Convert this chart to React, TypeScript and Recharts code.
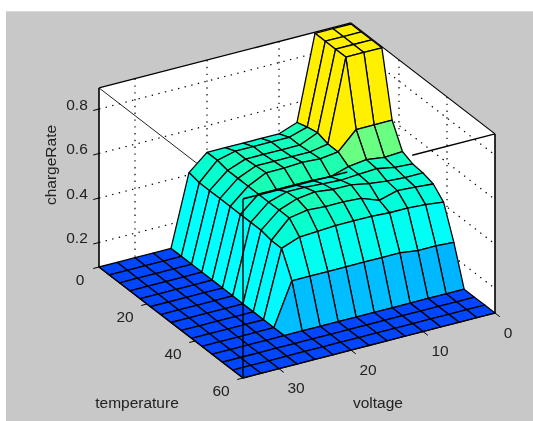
import { ScatterChart, Scatter, XAxis, YAxis, Polygon } from 'recharts';

const W = 533;
const H = 421;

// grid of the surface
const temperatureGrid = [0, 4.29, 8.57, 12.86, 17.14, 21.43, 25.71, 30, 34.29, 38.57, 42.86, 47.14, 51.43, 55.71, 60];
const voltageGrid = [35, 32.5, 30, 27.5, 25, 22.5, 20, 17.5, 15, 12.5, 10, 7.5, 5, 2.5, 0];

// chargeRate, one row per temperature, columns follow voltageGrid
const rowT00 = [0.09, 0.09, 0.09, 0.09, 0.09, 0.41, 0.48, 0.48, 0.48, 0.48, 0.48, 0.51, 0.89, 0.89, 0.89];
const rowT01 = [0.09, 0.09, 0.09, 0.09, 0.09, 0.40, 0.48, 0.50, 0.50, 0.50, 0.50, 0.525, 0.89, 0.89, 0.89];
const rowT02 = [0.09, 0.09, 0.09, 0.09, 0.09, 0.40, 0.47, 0.50, 0.50, 0.50, 0.50, 0.535, 0.89, 0.89, 0.89];
const rowT03 = [0.09, 0.09, 0.09, 0.09, 0.09, 0.40, 0.47, 0.505, 0.505, 0.505, 0.505, 0.52, 0.89, 0.89, 0.89];
const rowT04 = [0.09, 0.09, 0.09, 0.09, 0.09, 0.40, 0.47, 0.51, 0.51, 0.515, 0.51, 0.52, 0.60, 0.60, 0.60];
const rowT05 = [0.09, 0.09, 0.09, 0.09, 0.09, 0.40, 0.47, 0.47, 0.47, 0.47, 0.465, 0.49, 0.50, 0.49, 0.495];
const rowT06 = [0.09, 0.09, 0.09, 0.09, 0.09, 0.40, 0.47, 0.495, 0.495, 0.49, 0.485, 0.49, 0.495, 0.48, 0.475];
const rowT07 = [0.09, 0.09, 0.09, 0.09, 0.09, 0.40, 0.47, 0.50, 0.51, 0.50, 0.50, 0.485, 0.475, 0.47, 0.47];
const rowT08 = [0.09, 0.09, 0.09, 0.09, 0.09, 0.39, 0.47, 0.485, 0.48, 0.48, 0.475, 0.445, 0.468, 0.463, 0.456];
const rowT09 = [0.09, 0.09, 0.09, 0.09, 0.09, 0.39, 0.42, 0.425, 0.43, 0.43, 0.43, 0.425, 0.425, 0.42, 0.41];
const rowT10 = [0.09, 0.09, 0.09, 0.09, 0.09, 0.28, 0.28, 0.28, 0.28, 0.28, 0.28, 0.28, 0.27, 0.27, 0.265];
const rowT11 = [0.09, 0.09, 0.09, 0.09, 0.09, 0.09, 0.09, 0.09, 0.09, 0.09, 0.09, 0.09, 0.09, 0.09, 0.09];
const rowT12 = rowT11;
const rowT13 = rowT11;
const rowT14 = rowT11;
const chargeRate = [rowT00, rowT01, rowT02, rowT03, rowT04, rowT05, rowT06, rowT07, rowT08, rowT09, rowT10, rowT11, rowT12, rowT13, rowT14];

const zTicks = [0.2, 0.4, 0.6, 0.8];
const temperatureTicks = [0, 20, 40, 60];
const voltageTicks = [0, 10, 20, 30];

const zMin = 0.09;
const zMax = 0.895;

// colormap
const colorLevels = [0.09, 0.28, 0.4, 0.47, 0.52, 0.6, 0.62, 0.89];
const colorRgb = [
  [0, 70, 255],
  [0, 190, 255],
  [0, 255, 255],
  [0, 255, 215],
  [30, 255, 175],
  [105, 255, 130],
  [255, 240, 0],
  [255, 240, 0],
];

function colorFor(z: number) {
  let k = 0;
  while (k < colorLevels.length - 2 && z > colorLevels[k + 1]) k++;
  const f = Math.min(1, Math.max(0, (z - colorLevels[k]) / (colorLevels[k + 1] - colorLevels[k])));
  const c = colorRgb[k].map((v, n) => Math.round(v + (colorRgb[k + 1][n] - v) * f));
  return `rgb(${c[0]},${c[1]},${c[2]})`;
}

// matlab style view of the box
function project(t: number, v: number, z: number) {
  return {
    x: 99 + (t / 60) * 144 + ((35 - v) / 35) * 252,
    y: 267 + (t / 60) * 111 - ((35 - v) / 35) * 65 - (z - zMin) * 222.5,
  };
}

const noPoint = () => <g />;

function Face({ pts, fill, stroke = '#000', width = 1.3 }: any) {
  return (
    <Scatter
      data={pts}
      dataKey="y"
      isAnimationActive={false}
      shape={noPoint}
      line={(p: any) => <Polygon points={p.points} fill={fill} stroke={stroke} strokeWidth={width} strokeLinejoin="round" />}
    />
  );
}

function Stroke({ from, to, width = 1.3, color = '#000', dash }: any) {
  return (
    <Scatter
      data={[from, to]}
      dataKey="y"
      isAnimationActive={false}
      shape={noPoint}
      line={{ stroke: color, strokeWidth: width, strokeDasharray: dash }}
    />
  );
}

const textColor = '#222';
const labelShape = (p: any) => {
  const d = p.payload;
  return (
    <text
      x={p.cx}
      y={p.cy}
      fontFamily="Liberation Sans, Arial, sans-serif"
      fontSize={15.5}
      fill={textColor}
      textAnchor="middle"
      dominantBaseline="central"
      transform={d.rotate ? `rotate(-90 ${p.cx} ${p.cy})` : undefined}
    >
      {d.label}
    </text>
  );
};

export default function App() {
  const P = project;
  const dotted = '1.4 5.4';

  const faces: any[] = [];
  // far corner first so the nearer cells paint over
  for (let i = 0; i < 14; i++) {
    for (let j = 13; j >= 0; j--) {
      const t0 = temperatureGrid[i];
      const t1 = temperatureGrid[i + 1];
      const v0 = voltageGrid[j];
      const v1 = voltageGrid[j + 1];
      faces.push(
        <Face
          key={`f${i}-${j}`}
          fill={colorFor(chargeRate[i][j + 1])}
          pts={[
            P(t0, v0, chargeRate[i][j]),
            P(t0, v1, chargeRate[i][j + 1]),
            P(t1, v1, chargeRate[i + 1][j + 1]),
            P(t1, v0, chargeRate[i + 1][j]),
          ]}
        />
      );
    }
  }

  const labels = [
    ...zTicks.map((z) => {
      const p = P(0, 35, z);
      return { x: p.x - 22, y: p.y - 5, label: z.toFixed(1) };
    }),
    ...temperatureTicks.map((t) => {
      const p = P(t, 35, zMin);
      return { x: p.x - (t === 0 ? 19 : 22), y: p.y + 12, label: String(t) };
    }),
    ...voltageTicks.map((v) => {
      const p = P(60, v, zMin);
      return { x: p.x + (v === 0 ? 13 : 17), y: p.y + 19, label: String(v) };
    }),
    { x: 137, y: 402, label: 'temperature' },
    { x: 378, y: 402, label: 'voltage' },
    { x: 50, y: 165, label: 'chargeRate', rotate: true },
  ];

  return (
    <div style={{ position: 'absolute', left: 0, top: 0, width: W, height: H, background: '#fff', overflow: 'hidden' }}>
      <div style={{ position: 'absolute', left: 6, top: 11, right: 0, bottom: 0, background: '#c8c8c8', borderTop: '1px solid #d8d8d8' }} />
      <div style={{ position: 'absolute', left: 0, top: 0, filter: 'blur(0.45px)' }}>
        <ScatterChart width={W} height={H} margin={{ top: 0, right: 0, bottom: 0, left: 0 }}>
          <XAxis type="number" dataKey="x" domain={[0, W]} hide allowDataOverflow />
          <YAxis type="number" dataKey="y" domain={[0, H]} reversed hide allowDataOverflow />

          {/* back panes */}
          <Face
            fill="#fff"
            stroke="none"
            pts={[P(0, 35, zMin), P(0, 35, zMax), P(0, 0, zMax), P(60, 0, zMax), P(60, 0, zMin), P(60, 35, zMin)]}
          />
          {zTicks.map((z) => (
            <Stroke key={`ga${z}`} from={P(0, 35, z)} to={P(0, 0, z)} dash={dotted} width={1.2} />
          ))}
          {zTicks.map((z) => (
            <Stroke key={`gb${z}`} from={P(0, 0, z)} to={P(60, 0, z)} dash={dotted} width={1.2} />
          ))}
          {voltageTicks.slice(1).map((v) => (
            <Stroke key={`gv${v}`} from={P(0, v, zMax)} to={P(0, v, zMin)} dash={dotted} width={1.2} />
          ))}
          {temperatureTicks.slice(1, 3).map((t) => (
            <Stroke key={`gt${t}`} from={P(t, 0, zMax)} to={P(t, 0, zMin)} dash={dotted} width={1.2} />
          ))}
          <Stroke from={P(0, 35, zMax)} to={P(0, 0, zMax)} width={1.4} />
          <Stroke from={P(0, 0, zMax)} to={P(60, 0, zMax)} width={1.2} />
          <Stroke from={P(0, 35, zMax)} to={P(60, 35, zMax)} width={1} color="#222" />
          <Stroke from={P(0, 35, zMin)} to={P(0, 35, zMax)} width={1.6} />
          <Stroke from={P(60, 0, zMin)} to={P(60, 0, zMax)} width={1.6} />

          {faces}

          {/* front edges of the box sit on top of the surface */}
          <Stroke from={P(60, 35, zMin)} to={P(60, 35, zMax)} width={1.4} />
          <Stroke from={P(60, 35, zMax)} to={P(60, 20.5, zMax)} width={1.6} />
          <Stroke from={P(60, 11.5, zMax)} to={P(60, 0, zMax)} width={1.4} />
          <Stroke from={P(0, 35, zMin)} to={P(60, 35, zMin)} width={1.2} />
          <Stroke from={P(60, 35, zMin)} to={P(60, 0, zMin)} width={1.2} />

          {zTicks.map((z) => (
            <Stroke key={`tz${z}`} from={P(0, 35, z)} to={P(0, 35.8, z)} width={1} />
          ))}
          {temperatureTicks.map((t) => (
            <Stroke key={`tt${t}`} from={P(t, 35, zMin)} to={P(t, 35.8, zMin)} width={1} />
          ))}
          {voltageTicks.map((v) => (
            <Stroke key={`tv${v}`} from={P(60, v, zMin)} to={P(62, v, zMin)} width={1} />
          ))}

          <Scatter data={labels} dataKey="y" isAnimationActive={false} shape={labelShape} />
        </ScatterChart>
      </div>
    </div>
  );
}
